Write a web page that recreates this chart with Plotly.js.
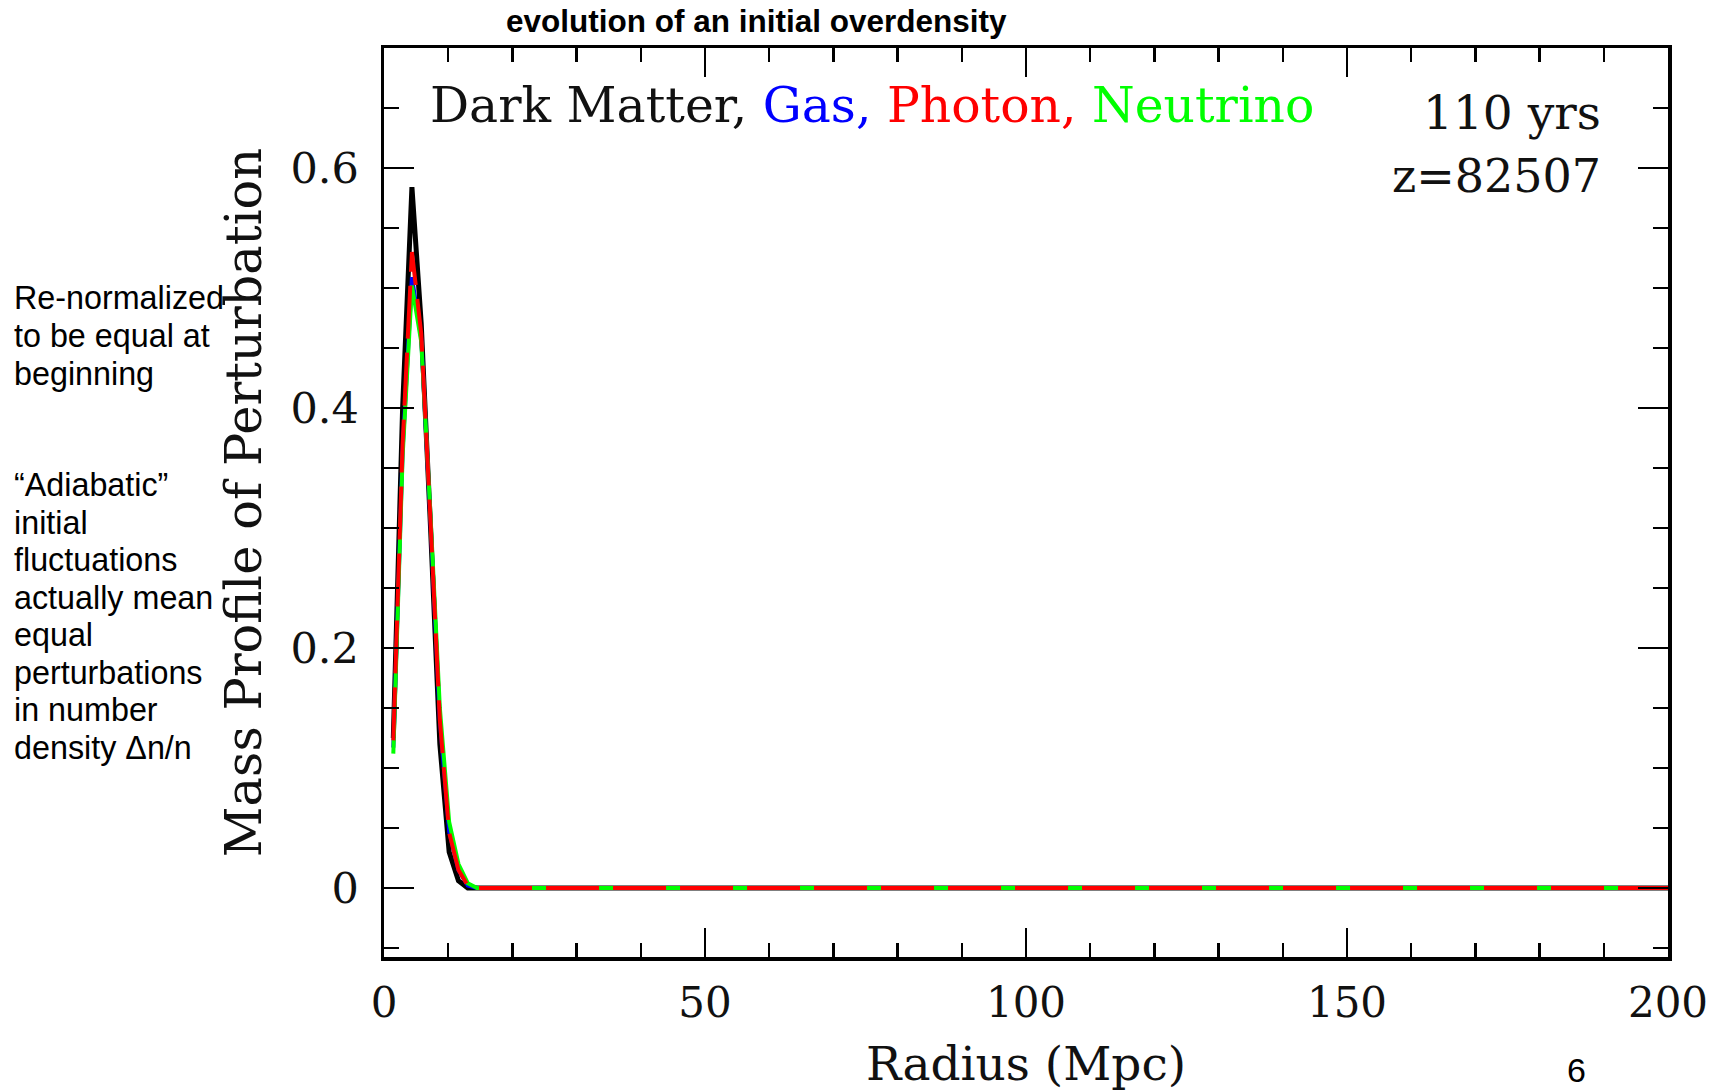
<!DOCTYPE html>
<html>
<head>
<meta charset="utf-8">
<script src="https://cdn.plot.ly/plotly-3.0.1.min.js"></script>
<style>html,body{margin:0;padding:0;background:#fff;}#chart{width:1721px;height:1091px;}</style>
</head>
<body>
<div id="chart"></div>
<script>
// Radius samples (Mpc) and mass profile of perturbation for each component
const radius     = [1.45, 2.9, 4.35, 5.8, 7.25, 8.7, 10.15, 11.6, 13.05, 14.5, 200];
const darkMatter = [0.125, 0.40, 0.584, 0.470, 0.300, 0.120, 0.030, 0.006, 0.000, 0, 0];
const gas        = [0.117, 0.365, 0.509, 0.458, 0.305, 0.140, 0.047, 0.015, 0.002, 0, 0];
const photon     = [0.123, 0.370, 0.530, 0.462, 0.305, 0.140, 0.046, 0.015, 0.002, 0, 0];
const neutrino   = [0.112, 0.360, 0.502, 0.455, 0.310, 0.150, 0.055, 0.020, 0.004, 0, 0];

const xTickVals = [0, 50, 100, 150, 200];
const yTickVals = [0, 0.2, 0.4, 0.6];
const yTickText = ['0', '0.2', '0.4', '0.6'];

const noteLines1 = ['Re-normalized', 'to be equal at', 'beginning'];
const noteLines2 = ['\u201cAdiabatic\u201d', 'initial', 'fluctuations', 'actually mean', 'equal',
                    'perturbations', 'in number', 'density \u0394n/n'];

const W = 1721, H = 1091;
const M = {l: 384, r: 53, t: 48, b: 134};
const PW = W - M.l - M.r, PH = H - M.t - M.b;
const px = x => (x - M.l) / PW;
const py = y => 1 - (y - M.t) / PH;

const serif = 'DejaVu Serif, serif';
const sans = 'Liberation Sans, Arial, sans-serif';

const traces = [
  {x: radius, y: darkMatter, name: 'Dark Matter', mode: 'lines', line: {color: '#000000', width: 5}},
  {x: radius, y: gas, name: 'Gas', mode: 'lines', line: {color: '#0000ff', width: 4}},
  {x: radius, y: neutrino, name: 'Neutrino', mode: 'lines', line: {color: '#00ff00', width: 4}},
  {x: radius, y: photon, name: 'Photon', mode: 'lines', line: {color: '#ff0000', width: 4, dash: '53px,14px'}}
];

const annotations = [];
annotations.push({
  xref: 'paper', yref: 'paper', x: px(756), y: py(21), xanchor: 'center', yanchor: 'middle',
  text: '<b>evolution of an initial overdensity</b>', showarrow: false,
  font: {family: sans, size: 31.5, color: '#000'}
});
noteLines1.forEach((t, i) => annotations.push({
  xref: 'paper', yref: 'paper', x: px(12), y: py(298.5 + 37.9 * i), xanchor: 'left', yanchor: 'middle',
  text: t, showarrow: false, font: {family: sans, size: 32.3, color: '#000'}
}));
noteLines2.forEach((t, i) => annotations.push({
  xref: 'paper', yref: 'paper', x: px(12), y: py(485 + 37.5 * i), xanchor: 'left', yanchor: 'middle',
  text: t, showarrow: false, font: {family: sans, size: 32.3, color: '#000'}
}));
annotations.push({
  xref: 'paper', yref: 'paper', x: px(428), y: py(106), xanchor: 'left', yanchor: 'middle',
  text: '<span style="color:#111">Dark Matter, </span><span style="color:#0000ff">Gas, </span>' +
        '<span style="color:#ff0000">Photon, </span><span style="color:#00ff00">Neutrino</span>',
  showarrow: false, font: {family: serif, size: 48.8, color: '#111'}
});
annotations.push({
  xref: 'paper', yref: 'paper', x: px(1603), y: py(112), xanchor: 'right', yanchor: 'middle',
  text: '110 yrs', showarrow: false, font: {family: serif, size: 47, color: '#111'}
});
annotations.push({
  xref: 'paper', yref: 'paper', x: px(1603), y: py(176), xanchor: 'right', yanchor: 'middle',
  text: 'z=82507', showarrow: false, font: {family: serif, size: 46, color: '#111'}
});
annotations.push({
  xref: 'paper', yref: 'paper', x: px(1576), y: py(1091), xanchor: 'center', yanchor: 'bottom',
  text: '6', showarrow: false, font: {family: sans, size: 34, color: '#000'}
});

const layout = {
  width: W, height: H,
  margin: M,
  paper_bgcolor: '#ffffff', plot_bgcolor: '#ffffff',
  showlegend: false,
  xaxis: {
    range: [0, 200], tickvals: xTickVals, ticktext: xTickVals.map(String),
    ticks: 'inside', ticklen: 29, tickwidth: 2.5, tickcolor: '#000',
    minor: {dtick: 10, ticks: 'inside', ticklen: 14, tickwidth: 2.5, tickcolor: '#000'},
    showline: true, linewidth: 3.5, linecolor: '#000', mirror: 'ticks',
    showgrid: false, zeroline: false, ticklabelstandoff: 6,
    tickfont: {family: serif, size: 42, color: '#111'},
    title: {text: 'Radius (Mpc)', font: {family: serif, size: 47, color: '#111'}, standoff: 34}
  },
  yaxis: {
    range: [-0.0575, 0.7], tickvals: yTickVals, ticktext: yTickText,
    ticks: 'inside', ticklen: 30, tickwidth: 2.5, tickcolor: '#000',
    minor: {dtick: 0.05, tick0: 0, ticks: 'inside', ticklen: 15, tickwidth: 2.5, tickcolor: '#000'},
    showline: true, linewidth: 3.5, linecolor: '#000', mirror: 'ticks',
    showgrid: false, zeroline: false, ticklabelstandoff: 13,
    tickfont: {family: serif, size: 43, color: '#111'},
    title: {text: 'Mass Profile of Perturbation', font: {family: serif, size: 49.5, color: '#111'}, standoff: 14}
  },
  annotations: annotations
};

Plotly.newPlot('chart', traces, layout, {displayModeBar: false, staticPlot: true});
</script>
</body>
</html>
